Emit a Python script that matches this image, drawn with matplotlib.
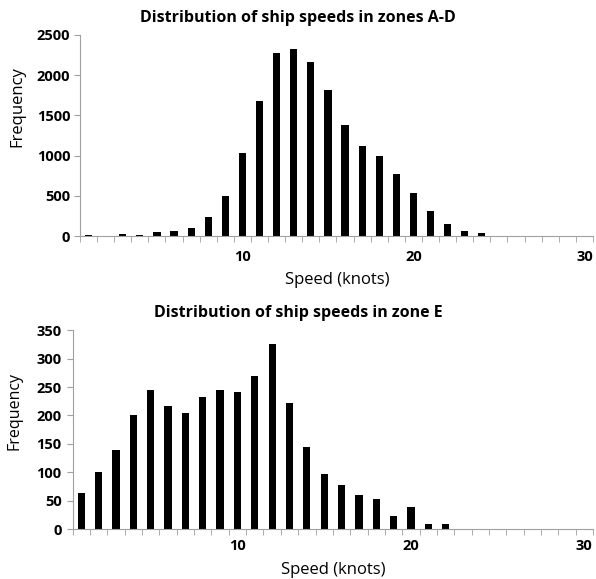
import matplotlib
matplotlib.use('Agg')
import matplotlib.pyplot as plt
import numpy as np

matplotlib.rcParams['font.family'] = 'Open Sans'

# speed bins (knots)
speeds = list(range(1, 31))

# zones A-D
freq_ad = [17, 0, 29, 17, 45, 58, 100, 240, 497, 1028,
           1683, 2272, 2322, 2164, 1816, 1385, 1124, 995, 771, 535,
           311, 149, 66, 33, 0, 0, 0, 0, 0, 0]

# zone E
freq_e = [63, 100, 139, 201, 244, 216, 204, 232, 244, 242,
          270, 325, 222, 144, 98, 77, 61, 54, 23, 39,
          9, 10, 0, 0, 0, 0, 0, 0, 0, 0]

W, H = 596, 579
fig = plt.figure(figsize=(W / 100, H / 100), dpi=100)

ax1 = fig.add_axes([0.1342, 0.5924, 0.8607, 0.3472])
ax2 = fig.add_axes([0.1220, 0.0858, 0.8730, 0.3441])


def style(ax, freq, ymax, ystep, xpad, ypad):
    ax.bar(speeds, freq, width=0.42, color='black')
    ax.set_xlim(0.5, 30.5)
    ax.set_ylim(0, ymax)
    ax.set_yticks(np.arange(0, ymax + 1, ystep))
    ax.set_xticks([10, 20, 30])
    ax.set_xticks(np.arange(0.5, 31, 1), minor=True)
    ax.tick_params(axis='x', which='major', length=0, pad=xpad)
    ax.tick_params(axis='x', which='minor', length=4, color='#a0a0a0', direction='out')
    ax.tick_params(axis='y', length=4, color='#a0a0a0', pad=ypad)
    for lab in ax.get_xticklabels() + ax.get_yticklabels():
        lab.set_fontweight('bold')
        lab.set_fontsize(10.5)
    for s in ['top', 'right']:
        ax.spines[s].set_visible(False)
    for s in ['left', 'bottom']:
        ax.spines[s].set_color('#a0a0a0')
        ax.spines[s].set_linewidth(0.8)


style(ax1, freq_ad, 2500, 500, 10, 3)
style(ax2, freq_e, 350, 50, 7, 4)

# x labels
fig.text(337 / W, 1 - 283.5 / H, 'Speed (knots)', ha='center', va='baseline', fontsize=12)
fig.text(333 / W, 1 - 573.5 / H, 'Speed (knots)', ha='center', va='baseline', fontsize=12)

# titles
fig.text(0.5, 1 - 21.7 / H, 'Distribution of ship speeds in zones A-D',
         ha='center', va='baseline', fontsize=11.5, fontweight='bold')
fig.text(0.5, 1 - 317 / H, 'Distribution of ship speeds in zone E',
         ha='center', va='baseline', fontsize=11.5, fontweight='bold')

# y labels
fig.text(17 / W, 1 - 107 / H, 'Frequency', rotation=90,
         ha='center', va='center', fontsize=12)
fig.text(15 / W, 1 - 411 / H, 'Frequency', rotation=90,
         ha='center', va='center', fontsize=11.5)

fig.savefig('out.png', dpi=100)
